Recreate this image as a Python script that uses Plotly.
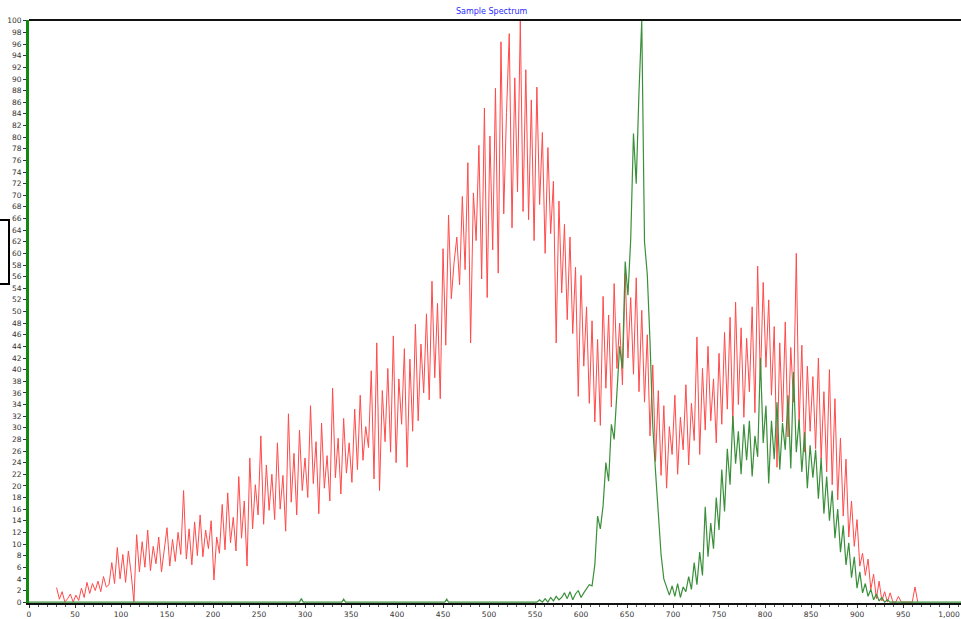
import plotly.graph_objects as go

# ---------------- data ----------------
title_text = "Sample Spectrum"

# red series: sampled every 3 units starting at x = 30
red_start = 30
red_step = 3
red_values = [
    2.5, 0.5, 1.8, 0, 0.6, 1.4, 0, 1.2, 0.3, 2.4,
    0.8, 3.4, 1.5, 3.2, 2.0, 3.6, 1.8, 4.4, 2.6, 3.0,
    6.8, 3.2, 9.4, 4.0, 8.2, 3.4, 8.8, 5.0, 0.0, 11.6,
    5.2, 10.4, 6.0, 12.4, 5.4, 9.6, 6.6, 11.2, 5.2, 8.6,
    12.8, 6.2, 10.8, 7.0, 12.0, 8.2, 19.2, 7.4, 12.6, 6.4,
    13.8, 8.0, 15.0, 7.8, 12.4, 9.2, 14.0, 3.8, 11.2, 8.4,
    16.8, 9.0, 18.8, 10.2, 14.6, 8.8, 21.6, 11.0, 17.4, 6.2,
    24.8, 12.6, 20.2, 15.0, 28.6, 13.4, 23.6, 15.8, 22.0, 14.2,
    27.4, 16.0, 21.8, 12.2, 32.4, 17.2, 25.6, 15.0, 29.6, 19.2,
    24.8, 18.0, 33.8, 20.4, 27.6, 15.2, 30.8, 19.6, 25.2, 17.4,
    36.8, 21.4, 28.2, 18.6, 31.6, 22.2, 27.4, 20.6, 33.2, 22.8,
    35.6, 24.4, 30.2, 26.6, 39.8, 21.2, 44.6, 19.2, 36.4, 27.6,
    40.2, 25.8, 45.8, 24.0, 38.4, 30.6, 43.6, 23.2, 41.8, 29.4,
    47.8, 31.2, 44.4, 36.0, 49.6, 34.8, 55.2, 38.6, 51.4, 35.0,
    60.8, 44.2, 66.6, 52.2, 58.4, 62.8, 54.6, 69.8, 57.2, 75.6,
    44.6, 70.4, 62.2, 78.6, 55.6, 85.0, 52.4, 80.2, 60.6, 88.4,
    56.6, 96.4, 66.8, 84.2, 97.8, 64.4, 90.2, 70.6, 100.0, 67.2,
    91.6, 65.8, 86.4, 62.2, 88.6, 68.4, 80.8, 60.0, 78.2, 63.4,
    72.4, 44.6, 69.0, 53.2, 65.0, 48.6, 62.8, 46.2, 57.6, 35.4,
    56.2, 40.6, 50.8, 34.2, 48.4, 31.0, 45.2, 30.4, 52.6, 36.8,
    49.4, 33.6, 54.8, 40.2, 48.0, 37.4, 56.6, 42.0, 52.4, 39.2,
    55.8, 36.2, 50.2, 34.4, 46.0, 28.6, 40.8, 24.2, 36.4, 21.8,
    33.8, 19.6, 30.2, 25.4, 35.6, 22.0, 31.8, 26.2, 37.4, 23.6,
    34.2, 27.8, 45.6, 25.4, 40.2, 29.6, 44.0, 31.2, 38.4, 27.4,
    42.8, 30.6, 46.4, 33.2, 49.0, 30.4, 51.6, 34.0, 47.2, 31.8,
    45.4, 36.2, 50.8, 32.6, 57.8, 38.2, 55.0, 40.4, 52.0, 35.6,
    47.4, 23.2, 44.6, 31.0, 48.2, 28.4, 43.8, 34.4, 60.0, 30.2,
    44.2, 25.8, 40.6, 29.4, 38.8, 26.4, 42.0, 24.6, 36.2, 22.4,
    40.0, 20.2, 35.0, 17.6, 28.2, 14.8, 24.6, 11.2, 17.4, 9.6,
    14.2, 6.2, 8.4, 4.6, 7.4, 2.2, 4.8, 0.6, 3.6, 0.2,
    1.8, 0, 1.6, 0, 0, 1.0, 0, 0, 0, 0,
    0, 2.6, 0,
]

# green series: flat baseline part (sparse points) + dense part every 3 units
green_head_x = [0, 294, 296, 298, 340, 342, 344, 452, 454, 456, 549]
green_head_y = [0, 0, 0.6, 0, 0, 0.5, 0, 0, 0.5, 0, 0]
green_start = 552
green_step = 3
green_values = [
    0, 0.4, 0, 0.6, 0, 0.8, 0.2, 1.0, 0.4, 0.8,
    1.6, 0.6, 1.8, 0.4, 1.4, 2.0, 0.8, 1.6, 2.2, 3.0,
    2.8, 6.4, 14.8, 12.6, 16.6, 24.0, 20.8, 30.6, 28.0, 36.4,
    44.0, 40.2, 58.6, 52.8, 62.4, 80.6, 72.0, 87.8, 100.0, 62.0,
    56.4, 44.8, 30.2, 22.4, 14.6, 8.2, 4.0, 2.4, 1.2, 2.8,
    1.0, 3.2, 0.8, 2.6, 1.8, 4.4, 2.2, 6.8, 3.0, 8.6,
    4.6, 16.4, 7.8, 13.6, 9.2, 18.0, 12.4, 22.8, 15.6, 26.4,
    20.2, 32.0, 23.8, 29.4, 22.0, 30.6, 24.4, 31.2, 21.6, 28.6,
    25.0, 42.0, 27.4, 33.8, 20.4, 31.2, 24.6, 34.4, 22.8, 30.8,
    26.2, 35.6, 23.0, 39.6, 25.8, 31.4, 22.4, 29.2, 19.6, 27.0,
    21.4, 26.2, 17.8, 24.8, 15.2, 21.6, 14.0, 19.2, 11.0, 16.0,
    8.6, 13.2, 6.4, 10.2, 4.2, 7.8, 2.4, 5.2, 1.6, 3.2,
    1.0, 2.2, 0.4, 1.4, 0.2, 0.8, 0, 0.4, 0, 0,
    0, 0, 0, 0,
]
green_tail_x = [1013]
green_tail_y = [0]

x_range = [0, 1013]
y_range = [-0.15, 100.15]
y_ticks = list(range(0, 101, 2))
x_ticks = list(range(0, 1001, 50))

# ---------------- build ----------------
red_x = [red_start + i * red_step for i in range(len(red_values))]
green_x = green_head_x + [green_start + i * green_step for i in range(len(green_values))] + green_tail_x
green_y = green_head_y + green_values + green_tail_y

fig = go.Figure()
fig.add_trace(go.Scatter(x=red_x, y=red_values, mode="lines",
                         line=dict(color="#ff4a4a", width=1), showlegend=False, hoverinfo="skip"))
fig.add_trace(go.Scatter(x=green_x, y=green_y, mode="lines",
                         line=dict(color="#3a8f3a", width=1.2), showlegend=False, hoverinfo="skip"))

tick_font = dict(family="DejaVu Sans", size=7.5, color="#333333")

fig.update_layout(
    width=961, height=619,
    margin=dict(l=29, r=0, t=20, b=16, autoexpand=False),
    paper_bgcolor="white", plot_bgcolor="white",
    xaxis=dict(range=x_range, tickvals=x_ticks, tickformat=",d",
               showgrid=False, zeroline=False, automargin=False,
               showline=True, linecolor="#111111", linewidth=2,
               ticks="outside", ticklen=3, tickcolor="#333333",
               minor=dict(dtick=10, ticks="outside", ticklen=2, tickcolor="#555555"),
               tickfont=tick_font, layer="below traces", fixedrange=True),
    yaxis=dict(range=y_range, tickvals=y_ticks,
               showgrid=False, zeroline=False, automargin=False,
               showline=True, linecolor="#118811", linewidth=3,
               ticks="outside", ticklen=3, tickcolor="#333333",
               tickfont=tick_font, layer="below traces", fixedrange=True),
    annotations=[dict(text=title_text, xref="paper", yref="paper",
                      x=(492 - 29) / 932, y=1, yanchor="bottom", yshift=2,
                      showarrow=False,
                      font=dict(family="DejaVu Sans", size=8, color="#2a2aff"))],
    shapes=[
        dict(type="line", xref="paper", yref="paper", x0=0, x1=1, y0=1, y1=1,
             line=dict(color="#111111", width=2)),
        dict(type="rect", xref="paper", yref="paper",
             x0=-0.06, x1=(9 - 29) / 932, y0=(603 - 284) / 583, y1=(603 - 220) / 583,
             line=dict(color="#000000", width=2), fillcolor="white"),
    ],
)

fig.write_html(
    "out.html",
    config={"displayModeBar": False},
    post_script="document.body.style.margin='0';document.body.style.padding='0';document.body.style.overflow='hidden';",
)
